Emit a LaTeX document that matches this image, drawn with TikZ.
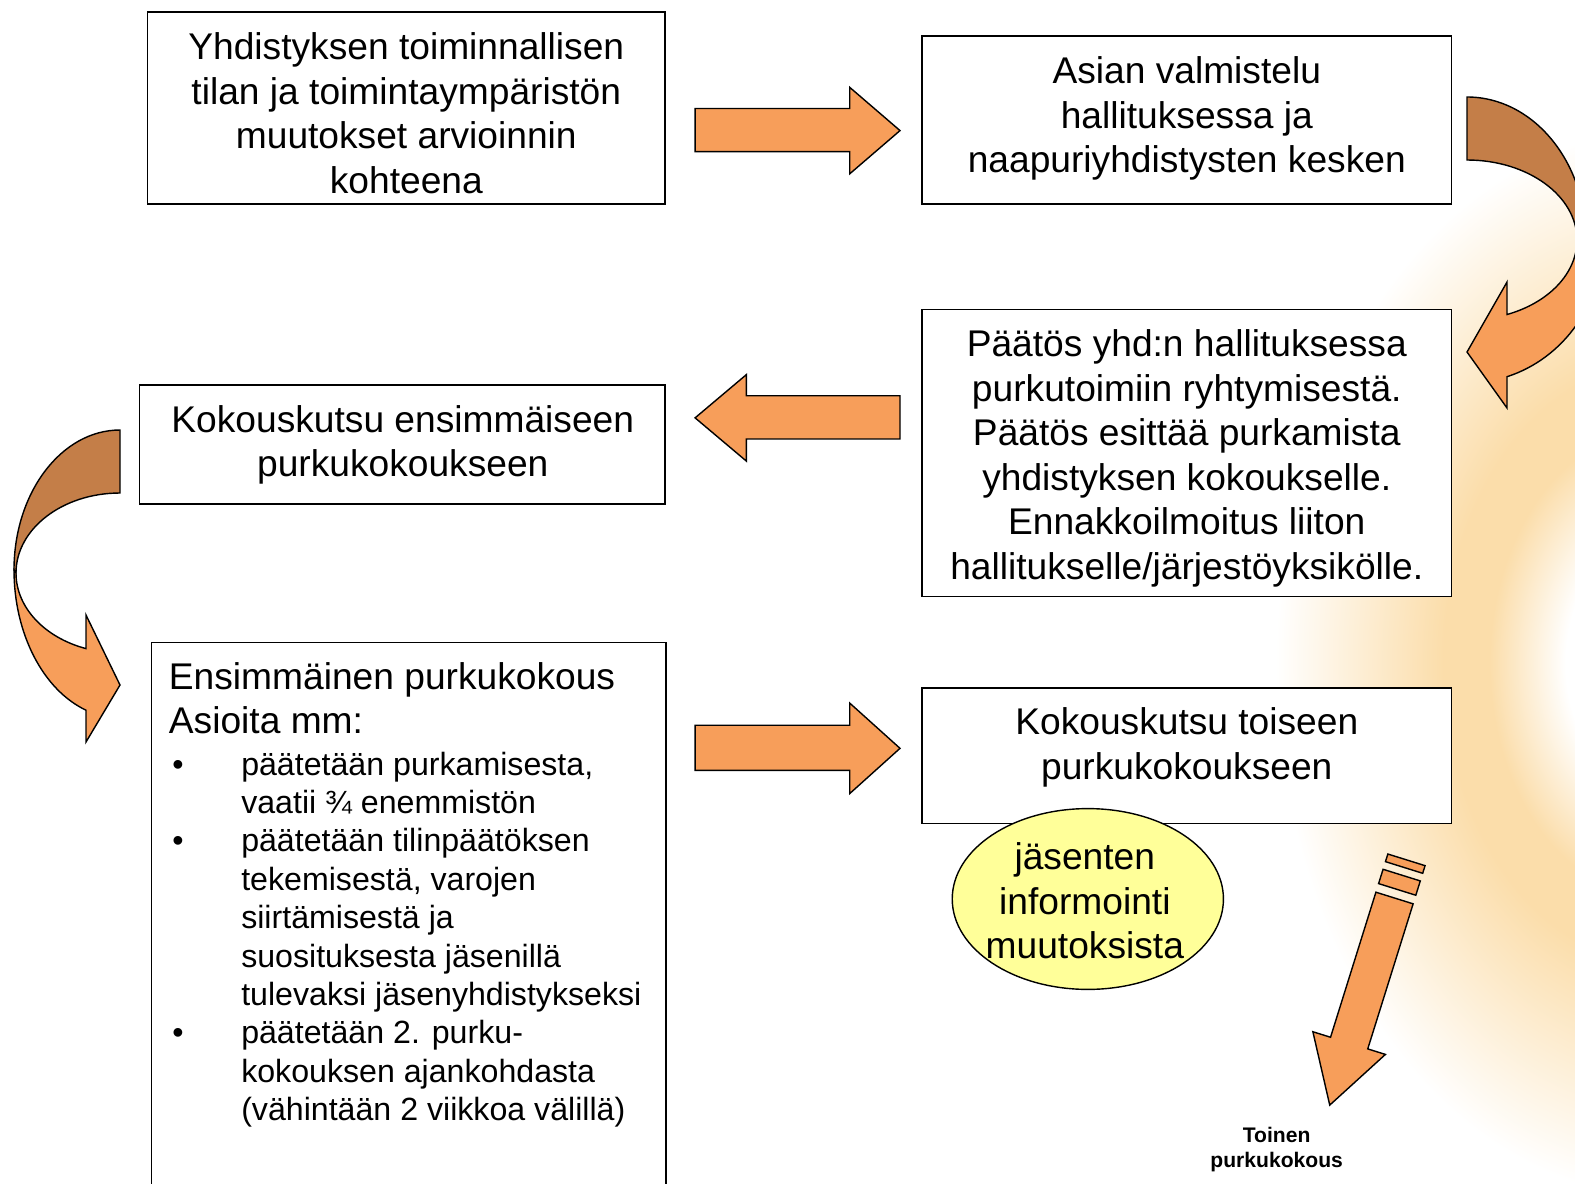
\documentclass[tikz,border=0pt]{standalone}
\usepackage{fontspec}
\setmainfont{Liberation Sans}
\usetikzlibrary{shapes.geometric}
\definecolor{arrowor}{RGB}{247,158,90}
\definecolor{arrowbr}{RGB}{196,126,72}
\definecolor{glowc}{RGB}{251,221,170}
\definecolor{ellfill}{RGB}{255,255,153}
\pgfdeclareradialshading{sunglow}{\pgfpoint{0bp}{0bp}}{color(0bp)=(white); color(6bp)=(white); color(11bp)=(glowc); color(14bp)=(glowc); color(25bp)=(white); color(50bp)=(white)}
\begin{document}
\begin{tikzpicture}[x=1pt,y=-1pt,
  box/.style={draw=black, line width=1.6pt, fill=white, rectangle, inner sep=0pt},
  txt/.style={font=\fontsize{37}{44.3}\selectfont, align=center, inner sep=0pt},
  blockarrow/.style={draw=black, line width=1.4pt, fill=arrowor, line join=miter},
  ]
\useasboundingbox (0,0) rectangle (1568,1178);
\clip (0,0) rectangle (1568,1178);
\fill[white] (0,0) rectangle (1568,1178);
\shade[shading=sunglow] (1650,660) ellipse [x radius=380, y radius=530];

% boxes
\node[box, minimum width=515pt, minimum height=191pt] (b1) at (404.5,107.5) {};
\node[txt] (t1) at (404.5,112.5) {Yhdistyksen toiminnallisen\\tilan ja toimintaympäristön\\muutokset arvioinnin\\kohteena};

\node[box, minimum width=527pt, minimum height=167pt] (b2) at (1181.5,119.5) {};
\node[txt] (t2) at (1181.5,118.3) {Asian valmistelu\\hallituksessa ja\\naapuriyhdistysten kesken};

\node[box, minimum width=527pt, minimum height=286pt] (b3) at (1181.5,451) {};
\node[txt] (t3) at (1181.5,456.5) {Päätös yhd:n hallituksessa\\purkutoimiin ryhtymisestä.\\Päätös esittää purkamista\\yhdistyksen kokoukselle.\\Ennakkoilmoitus liiton\\hallitukselle/järjestöyksikölle.};

\node[box, minimum width=523pt, minimum height=119pt] (b4) at (400.5,442.5) {};
\node[txt] (t4) at (401,443) {Kokouskutsu ensimmäiseen\\purkukokoukseen};

\node[box, anchor=north west, minimum width=512pt, minimum height=580pt] (b5) at (150,639) {};
\node[txt, align=left, anchor=west] (t5) at (168,695.2) {Ensimmäinen purkukokous\\Asioita mm:};
\node[anchor=north west, inner sep=0pt, font=\fontsize{32}{38.2}\selectfont] (t5b) at (171.5,744.8) {%
\begin{tabular}{@{}l@{}l@{}}
\makebox[68.5pt][l]{•} & päätetään purkamisesta,\\
 & vaatii ¾ enemmistön\\
\makebox[68.5pt][l]{•} & päätetään tilinpäätöksen\\
 & tekemisestä, varojen\\
 & siirtämisestä ja\\
 & suosituksesta jäsenillä\\
 & tulevaksi jäsenyhdistykseksi\\
\makebox[68.5pt][l]{•} & päätetään 2. purku-\\
 & kokouksen ajankohdasta\\
 & (vähintään 2 viikkoa välillä)
\end{tabular}};

\node[box, minimum width=527pt, minimum height=135pt] (b6) at (1181.5,752.5) {};
\node[txt] (t6) at (1181.5,744) {Kokouskutsu toiseen\\purkukokoukseen};

\node[ellipse, draw=black, line width=1.4pt, fill=ellfill, minimum width=270pt, minimum height=180pt, inner sep=0pt] (e1) at (1083,895) {};
\node[txt] (te) at (1080,897) {jäsenten\\informointi\\muutoksista};

\node[font=\bfseries\fontsize{21}{25}\selectfont, align=center, inner sep=0pt] (t7) at (1271,1144.8) {Toinen\\purkukokous};

% straight block arrows
\draw[blockarrow] (692,108) -- (846,108) -- (846,87) -- (896,130) -- (846,173) -- (846,151) -- (692,151) -- cycle;
\draw[blockarrow] (896,394) -- (743,394) -- (743,373) -- (692,416) -- (743,459) -- (743,437) -- (896,437) -- cycle;
\draw[blockarrow] (692,722) -- (846,722) -- (846,700) -- (896,745) -- (846,790) -- (846,767) -- (692,767) -- cycle;

\begin{scope}[scale=0.99556]
% curved arrow, top right
\draw[blockarrow, fill=arrowbr] (1467,97) arc[start angle=-90, end angle=0, x radius=119, y radius=143]
  -- (1577,240) arc[start angle=0, end angle=-90, x radius=110, y radius=80] -- cycle;
\draw[blockarrow] (1577,240) arc[start angle=0, end angle=68.68, x radius=110, y radius=80]
  -- (1507,282) -- (1467,352) -- (1507,408) -- (1507,376.7)
  arc[start angle=72.9, end angle=0, x radius=136, y radius=143] -- cycle;

% curved arrow, left
\draw[blockarrow, fill=arrowbr] (120,430) arc[start angle=-90, end angle=-180, x radius=106, y radius=140]
  -- (16,573) arc[start angle=180, end angle=270, x radius=104, y radius=80] -- cycle;
\draw[blockarrow] (14,570) arc[start angle=180, end angle=108.71, x radius=106, y radius=148]
  -- (86,742) -- (120,685) -- (86,615) -- (86,648.6)
  arc[start angle=109.08, end angle=180, x radius=104, y radius=80] -- cycle;

% striped diagonal arrow
\begin{scope}[shift={(1394.5,898)}, rotate=-17.37]
\draw[blockarrow] (-19.5,0) -- (19.5,0) -- (19.5,152) -- (38,152) -- (0,217) -- (-38,152) -- (-19.5,152) -- cycle;
\draw[blockarrow] (-19.5,-24) rectangle (19.5,-9);
\draw[blockarrow] (-19.5,-40) rectangle (19.5,-32);
\end{scope}
\end{scope}
\end{tikzpicture}
\end{document}
